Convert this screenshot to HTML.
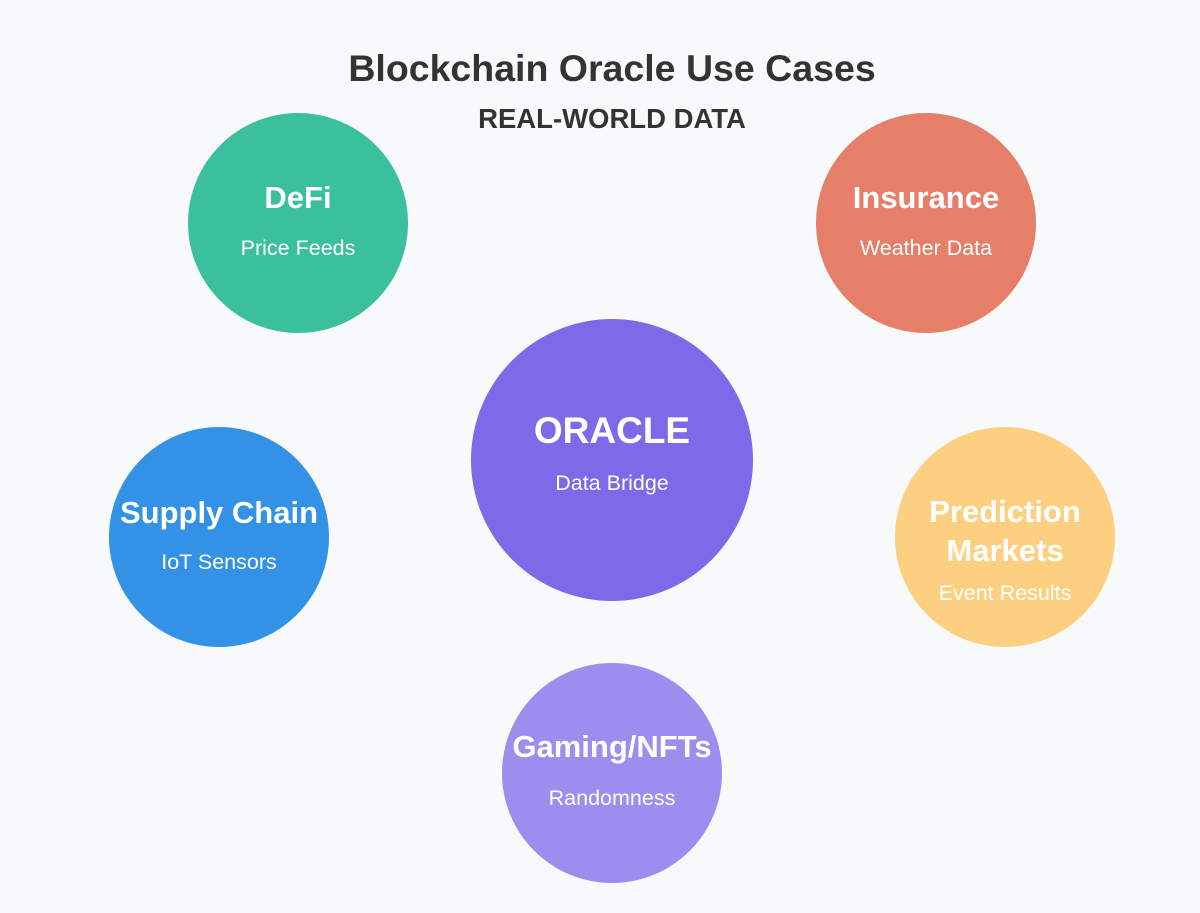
<!DOCTYPE html>
<html><head><style>
html,body{margin:0;padding:0;background:#f8f9fa;}
svg{display:block}
text{font-family:"Liberation Sans",Arial,sans-serif;text-anchor:middle;}
.h{font-weight:bold;fill:#fff;font-size:31px}
.s{fill:#fff;font-size:21.5px}
</style></head><body>
<svg width="1200" height="913" viewBox="0 0 1200 913">
<rect width="1200" height="913" fill="#f8f9fa"/>
<text x="612" y="81" font-size="37.5" font-weight="bold" fill="#333">Blockchain Oracle Use Cases</text>
<text x="612" y="128" font-size="27.5" font-weight="bold" fill="#333">REAL-WORLD DATA</text>

<circle cx="298" cy="223" r="110" fill="#3ac09c"/>
<text class="h" x="298" y="208">DeFi</text>
<text class="s" x="298" y="255">Price Feeds</text>

<circle cx="926" cy="223" r="110" fill="#e57f69"/>
<text class="h" x="926" y="208">Insurance</text>
<text class="s" x="926" y="255">Weather Data</text>

<circle cx="612" cy="460" r="141" fill="#7b6be8"/>
<text x="612" y="443" font-size="37" font-weight="bold" fill="#fff">ORACLE</text>
<text class="s" x="612" y="490" font-size="24.5">Data Bridge</text>

<circle cx="219" cy="537" r="110" fill="#3391e6"/>
<text class="h" x="219" y="523">Supply Chain</text>
<text class="s" x="219" y="569">IoT Sensors</text>

<circle cx="1005" cy="537" r="110" fill="#fcd080"/>
<text class="h" x="1005" y="522">Prediction</text>
<text class="h" x="1005" y="561">Markets</text>
<text class="s" x="1005" y="600">Event Results</text>

<circle cx="612" cy="773" r="110" fill="#9a8eef"/>
<text class="h" x="612" y="757">Gaming/NFTs</text>
<text class="s" x="612" y="805">Randomness</text>
</svg>
</body></html>
